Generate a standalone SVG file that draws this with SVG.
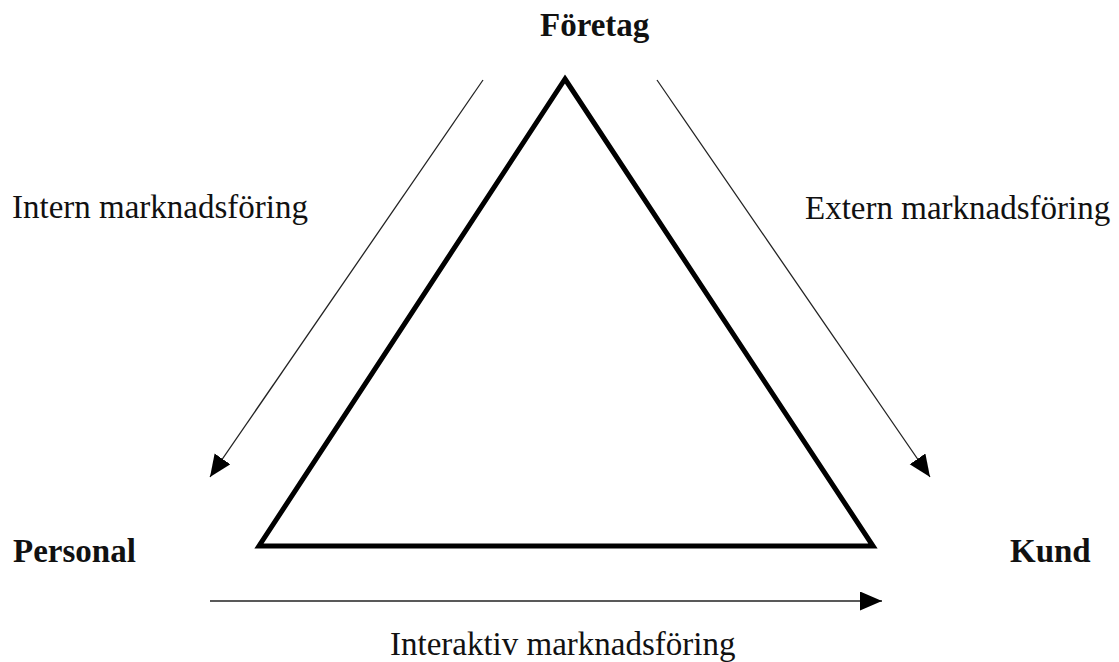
<svg xmlns="http://www.w3.org/2000/svg" width="1119" height="662" viewBox="0 0 1119 662">
<style>
.lbl{font-family:"Liberation Serif","Times New Roman",serif;font-size:33px;fill:#111}
.b{font-weight:bold}
.conn line{stroke:#222;stroke-width:1.3}
</style>
<defs>
<marker id="ah" markerUnits="userSpaceOnUse" markerWidth="24" markerHeight="22" refX="22" refY="9.5" orient="auto">
<path d="M0,0 L22,9.5 L0,19 z" fill="#000"/>
</marker>
</defs>
<rect width="1119" height="662" fill="#fff"/>
<g id="triangle">
<polygon points="565,79 873,546 259,546" fill="none" stroke="#000" stroke-width="5" stroke-linejoin="miter"/>
</g>
<g class="conn" id="connectors">
<line x1="483" y1="80" x2="210" y2="477" marker-end="url(#ah)"/>
<line x1="657" y1="80" x2="930" y2="477" marker-end="url(#ah)"/>
<line x1="210" y1="601" x2="882" y2="601" marker-end="url(#ah)"/>
</g>
<g id="foretag"><text class="lbl b" x="540" y="36">Företag</text></g>
<g id="personal"><text class="lbl b" x="13" y="562">Personal</text></g>
<g id="kund"><text class="lbl b" x="1010" y="562">Kund</text></g>
<g id="intern"><text class="lbl" x="12" y="218">Intern marknadsföring</text></g>
<g id="extern"><text class="lbl" x="805" y="219">Extern marknadsföring</text></g>
<g id="interaktiv"><text class="lbl" x="390" y="655">Interaktiv marknadsföring</text></g>
</svg>
